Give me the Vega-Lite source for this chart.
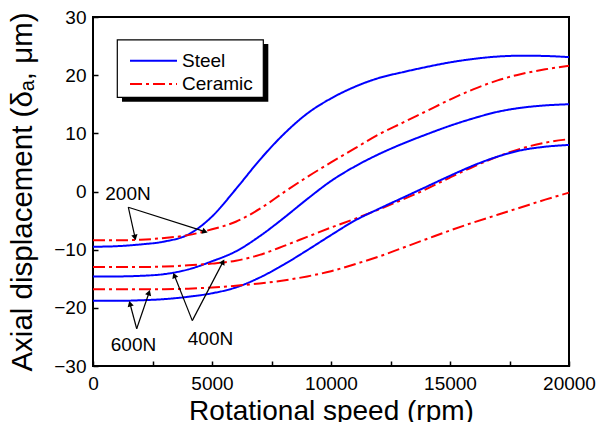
{
  "$schema": "https://vega.github.io/schema/vega-lite/v6.json",
  "width": 476,
  "height": 349,
  "autosize": {"type": "none"},
  "padding": {"left": 93, "top": 17, "right": 44, "bottom": 56},
  "config": {
    "font": "Liberation Sans",
    "view": {"stroke": "black", "strokeWidth": 2},
    "axis": {
      "grid": false,
      "domain": false,
      "ticks": true,
      "tickColor": "black",
      "tickWidth": 1.5,
      "tickSize": 5,
      "labelFlush": false,
      "labelOverlap": false,
      "labelColor": "black",
      "labelFontSize": 19,
      "labelFont": "Liberation Sans",
      "titleFont": "Liberation Sans",
      "titleFontWeight": "normal",
      "titleColor": "black"
    }
  },
  "datasets": {
    "curves": [
      {"material": "Steel", "load": "200N", "rpm": 0, "disp": -9.5},
      {"material": "Steel", "load": "200N", "rpm": 1000, "disp": -9.4},
      {"material": "Steel", "load": "200N", "rpm": 2000, "disp": -9.1},
      {"material": "Steel", "load": "200N", "rpm": 3000, "disp": -8.6},
      {"material": "Steel", "load": "200N", "rpm": 4000, "disp": -7.4},
      {"material": "Steel", "load": "200N", "rpm": 5000, "disp": -4.3},
      {"material": "Steel", "load": "200N", "rpm": 6000, "disp": 0.4},
      {"material": "Steel", "load": "200N", "rpm": 7000, "disp": 5.4},
      {"material": "Steel", "load": "200N", "rpm": 8000, "disp": 9.8},
      {"material": "Steel", "load": "200N", "rpm": 9000, "disp": 13.4},
      {"material": "Steel", "load": "200N", "rpm": 10000, "disp": 16.0},
      {"material": "Steel", "load": "200N", "rpm": 11000, "disp": 18.0},
      {"material": "Steel", "load": "200N", "rpm": 12000, "disp": 19.5},
      {"material": "Steel", "load": "200N", "rpm": 13000, "disp": 20.5},
      {"material": "Steel", "load": "200N", "rpm": 14000, "disp": 21.4},
      {"material": "Steel", "load": "200N", "rpm": 15000, "disp": 22.2},
      {"material": "Steel", "load": "200N", "rpm": 16000, "disp": 22.8},
      {"material": "Steel", "load": "200N", "rpm": 17000, "disp": 23.2},
      {"material": "Steel", "load": "200N", "rpm": 18000, "disp": 23.35},
      {"material": "Steel", "load": "200N", "rpm": 19000, "disp": 23.3},
      {"material": "Steel", "load": "200N", "rpm": 20000, "disp": 23.1},
      {"material": "Ceramic", "load": "200N", "rpm": 0, "disp": -8.4},
      {"material": "Ceramic", "load": "200N", "rpm": 1000, "disp": -8.4},
      {"material": "Ceramic", "load": "200N", "rpm": 2000, "disp": -8.3},
      {"material": "Ceramic", "load": "200N", "rpm": 3000, "disp": -8.0},
      {"material": "Ceramic", "load": "200N", "rpm": 4000, "disp": -7.5},
      {"material": "Ceramic", "load": "200N", "rpm": 5000, "disp": -6.5},
      {"material": "Ceramic", "load": "200N", "rpm": 6000, "disp": -5.2},
      {"material": "Ceramic", "load": "200N", "rpm": 7000, "disp": -3.0},
      {"material": "Ceramic", "load": "200N", "rpm": 8000, "disp": -0.2},
      {"material": "Ceramic", "load": "200N", "rpm": 9000, "disp": 2.5},
      {"material": "Ceramic", "load": "200N", "rpm": 10000, "disp": 5.0},
      {"material": "Ceramic", "load": "200N", "rpm": 11000, "disp": 7.4},
      {"material": "Ceramic", "load": "200N", "rpm": 12000, "disp": 9.8},
      {"material": "Ceramic", "load": "200N", "rpm": 13000, "disp": 11.8},
      {"material": "Ceramic", "load": "200N", "rpm": 14000, "disp": 13.8},
      {"material": "Ceramic", "load": "200N", "rpm": 15000, "disp": 15.8},
      {"material": "Ceramic", "load": "200N", "rpm": 16000, "disp": 17.6},
      {"material": "Ceramic", "load": "200N", "rpm": 17000, "disp": 19.1},
      {"material": "Ceramic", "load": "200N", "rpm": 18000, "disp": 20.2},
      {"material": "Ceramic", "load": "200N", "rpm": 19000, "disp": 21.0},
      {"material": "Ceramic", "load": "200N", "rpm": 20000, "disp": 21.6},
      {"material": "Steel", "load": "400N", "rpm": 0, "disp": -14.6},
      {"material": "Steel", "load": "400N", "rpm": 1000, "disp": -14.6},
      {"material": "Steel", "load": "400N", "rpm": 2000, "disp": -14.5},
      {"material": "Steel", "load": "400N", "rpm": 3000, "disp": -14.2},
      {"material": "Steel", "load": "400N", "rpm": 4000, "disp": -13.4},
      {"material": "Steel", "load": "400N", "rpm": 5000, "disp": -12.0},
      {"material": "Steel", "load": "400N", "rpm": 6000, "disp": -10.3},
      {"material": "Steel", "load": "400N", "rpm": 7000, "disp": -7.7},
      {"material": "Steel", "load": "400N", "rpm": 8000, "disp": -4.6},
      {"material": "Steel", "load": "400N", "rpm": 9000, "disp": -1.3},
      {"material": "Steel", "load": "400N", "rpm": 10000, "disp": 1.8},
      {"material": "Steel", "load": "400N", "rpm": 11000, "disp": 4.3},
      {"material": "Steel", "load": "400N", "rpm": 12000, "disp": 6.4},
      {"material": "Steel", "load": "400N", "rpm": 13000, "disp": 8.2},
      {"material": "Steel", "load": "400N", "rpm": 14000, "disp": 9.8},
      {"material": "Steel", "load": "400N", "rpm": 15000, "disp": 11.3},
      {"material": "Steel", "load": "400N", "rpm": 16000, "disp": 12.6},
      {"material": "Steel", "load": "400N", "rpm": 17000, "disp": 13.7},
      {"material": "Steel", "load": "400N", "rpm": 18000, "disp": 14.4},
      {"material": "Steel", "load": "400N", "rpm": 19000, "disp": 14.8},
      {"material": "Steel", "load": "400N", "rpm": 20000, "disp": 15.0},
      {"material": "Ceramic", "load": "400N", "rpm": 0, "disp": -13.0},
      {"material": "Ceramic", "load": "400N", "rpm": 1000, "disp": -13.0},
      {"material": "Ceramic", "load": "400N", "rpm": 2000, "disp": -13.0},
      {"material": "Ceramic", "load": "400N", "rpm": 3000, "disp": -12.9},
      {"material": "Ceramic", "load": "400N", "rpm": 4000, "disp": -12.7},
      {"material": "Ceramic", "load": "400N", "rpm": 5000, "disp": -12.4},
      {"material": "Ceramic", "load": "400N", "rpm": 6000, "disp": -11.9},
      {"material": "Ceramic", "load": "400N", "rpm": 7000, "disp": -10.9},
      {"material": "Ceramic", "load": "400N", "rpm": 8000, "disp": -9.4},
      {"material": "Ceramic", "load": "400N", "rpm": 9000, "disp": -7.8},
      {"material": "Ceramic", "load": "400N", "rpm": 10000, "disp": -6.2},
      {"material": "Ceramic", "load": "400N", "rpm": 11000, "disp": -4.7},
      {"material": "Ceramic", "load": "400N", "rpm": 12000, "disp": -3.1},
      {"material": "Ceramic", "load": "400N", "rpm": 13000, "disp": -1.4},
      {"material": "Ceramic", "load": "400N", "rpm": 14000, "disp": 0.4},
      {"material": "Ceramic", "load": "400N", "rpm": 15000, "disp": 2.4},
      {"material": "Ceramic", "load": "400N", "rpm": 16000, "disp": 4.3},
      {"material": "Ceramic", "load": "400N", "rpm": 17000, "disp": 6.0},
      {"material": "Ceramic", "load": "400N", "rpm": 18000, "disp": 7.4},
      {"material": "Ceramic", "load": "400N", "rpm": 19000, "disp": 8.4},
      {"material": "Ceramic", "load": "400N", "rpm": 20000, "disp": 9.0},
      {"material": "Steel", "load": "600N", "rpm": 0, "disp": -18.8},
      {"material": "Steel", "load": "600N", "rpm": 1000, "disp": -18.8},
      {"material": "Steel", "load": "600N", "rpm": 2000, "disp": -18.7},
      {"material": "Steel", "load": "600N", "rpm": 3000, "disp": -18.5},
      {"material": "Steel", "load": "600N", "rpm": 4000, "disp": -18.1},
      {"material": "Steel", "load": "600N", "rpm": 5000, "disp": -17.5},
      {"material": "Steel", "load": "600N", "rpm": 6000, "disp": -16.5},
      {"material": "Steel", "load": "600N", "rpm": 7000, "disp": -14.8},
      {"material": "Steel", "load": "600N", "rpm": 8000, "disp": -12.6},
      {"material": "Steel", "load": "600N", "rpm": 9000, "disp": -10.1},
      {"material": "Steel", "load": "600N", "rpm": 10000, "disp": -7.5},
      {"material": "Steel", "load": "600N", "rpm": 11000, "disp": -5.0},
      {"material": "Steel", "load": "600N", "rpm": 12000, "disp": -3.0},
      {"material": "Steel", "load": "600N", "rpm": 13000, "disp": -1.1},
      {"material": "Steel", "load": "600N", "rpm": 14000, "disp": 0.8},
      {"material": "Steel", "load": "600N", "rpm": 15000, "disp": 2.7},
      {"material": "Steel", "load": "600N", "rpm": 16000, "disp": 4.5},
      {"material": "Steel", "load": "600N", "rpm": 17000, "disp": 6.0},
      {"material": "Steel", "load": "600N", "rpm": 18000, "disp": 7.1},
      {"material": "Steel", "load": "600N", "rpm": 19000, "disp": 7.7},
      {"material": "Steel", "load": "600N", "rpm": 20000, "disp": 8.0},
      {"material": "Ceramic", "load": "600N", "rpm": 0, "disp": -16.8},
      {"material": "Ceramic", "load": "600N", "rpm": 1000, "disp": -16.8},
      {"material": "Ceramic", "load": "600N", "rpm": 2000, "disp": -16.8},
      {"material": "Ceramic", "load": "600N", "rpm": 3000, "disp": -16.8},
      {"material": "Ceramic", "load": "600N", "rpm": 4000, "disp": -16.7},
      {"material": "Ceramic", "load": "600N", "rpm": 5000, "disp": -16.5},
      {"material": "Ceramic", "load": "600N", "rpm": 6000, "disp": -16.2},
      {"material": "Ceramic", "load": "600N", "rpm": 7000, "disp": -15.8},
      {"material": "Ceramic", "load": "600N", "rpm": 8000, "disp": -15.3},
      {"material": "Ceramic", "load": "600N", "rpm": 9000, "disp": -14.6},
      {"material": "Ceramic", "load": "600N", "rpm": 10000, "disp": -13.7},
      {"material": "Ceramic", "load": "600N", "rpm": 11000, "disp": -12.5},
      {"material": "Ceramic", "load": "600N", "rpm": 12000, "disp": -11.2},
      {"material": "Ceramic", "load": "600N", "rpm": 13000, "disp": -9.7},
      {"material": "Ceramic", "load": "600N", "rpm": 14000, "disp": -8.2},
      {"material": "Ceramic", "load": "600N", "rpm": 15000, "disp": -6.7},
      {"material": "Ceramic", "load": "600N", "rpm": 16000, "disp": -5.3},
      {"material": "Ceramic", "load": "600N", "rpm": 17000, "disp": -4.0},
      {"material": "Ceramic", "load": "600N", "rpm": 18000, "disp": -2.7},
      {"material": "Ceramic", "load": "600N", "rpm": 19000, "disp": -1.4},
      {"material": "Ceramic", "load": "600N", "rpm": 20000, "disp": -0.2}
    ],
    "arrows": [
      {"label": "200N", "x": 1483, "y": -2.7, "x2": 1765, "y2": -7.9},
      {"label": "200N", "x": 1483, "y": -2.7, "x2": 4706, "y2": -6.9},
      {"label": "600N", "x": 1836, "y": -23.6, "x2": 1555, "y2": -19.3},
      {"label": "600N", "x": 1836, "y": -23.6, "x2": 2353, "y2": -17.4},
      {"label": "400N", "x": 4172, "y": -22.2, "x2": 3416, "y2": -14.4},
      {"label": "400N", "x": 4172, "y": -22.2, "x2": 5462, "y2": -12.1}
    ],
    "notes": [
      {"label": "200N", "x": 1471, "y": -0.5},
      {"label": "600N", "x": 1702, "y": -26.4},
      {"label": "400N", "x": 4937, "y": -25.3}
    ],
    "legendbox": [
      {"part": "shadow", "x": 1218, "x2": 7366, "y": 25.34, "y2": 15.43},
      {"part": "box", "x": 1021, "x2": 7156, "y": 26.08, "y2": 16.19}
    ],
    "legenditems": [
      {"material": "Steel", "x": 1555, "x2": 3529, "xt": 3740, "y": 22.47},
      {"material": "Ceramic", "x": 1555, "x2": 3529, "xt": 3740, "y": 18.47}
    ]
  },
  "layer": [
    {
      "data": {"name": "curves"},
      "mark": {"type": "line", "strokeWidth": 2, "interpolate": "monotone"},
      "encoding": {
        "x": {
          "field": "rpm", "type": "quantitative",
          "scale": {"domain": [0, 20000], "nice": false},
          "axis": {
            "title": "Rotational speed (rpm)",
            "titleFontSize": 28,
            "offset": -5,
            "values": [0, 2500, 5000, 7500, 10000, 12500, 15000, 17500, 20000],
            "labelExpr": "datum.value % 5000 == 0 ? format(datum.value, 'd') : ''",
            "labelPadding": 8,
            "titlePadding": 4
          }
        },
        "y": {
          "field": "disp", "type": "quantitative",
          "scale": {"domain": [-30, 30], "nice": false},
          "axis": {
            "title": "Axial displacement (δₐ, μm)",
            "titleFontSize": 29.5,
            "offset": -5,
            "values": [-30, -25, -20, -15, -10, -5, 0, 5, 10, 15, 20, 25, 30],
            "labelExpr": "datum.value % 10 == 0 ? format(datum.value, 'd') : ''",
            "labelPadding": 7,
            "titlePadding": 16
          }
        },
        "color": {
          "field": "material", "type": "nominal",
          "scale": {"domain": ["Steel", "Ceramic"], "range": ["#0000ff", "#ff0000"]},
          "legend": null
        },
        "strokeDash": {
          "field": "material", "type": "nominal",
          "scale": {"domain": ["Steel", "Ceramic"], "range": [[1, 0], [12, 4, 3, 4]]},
          "legend": null
        },
        "detail": {"field": "load"}
      }
    },
    {
      "data": {"name": "legendbox"},
      "transform": [{"filter": "datum.part == 'shadow'"}],
      "mark": {"type": "rect", "color": "black"},
      "encoding": {
        "x": {"field": "x", "type": "quantitative"},
        "x2": {"field": "x2"},
        "y": {"field": "y", "type": "quantitative"},
        "y2": {"field": "y2"}
      }
    },
    {
      "data": {"name": "legendbox"},
      "transform": [{"filter": "datum.part == 'box'"}],
      "mark": {"type": "rect", "fill": "white", "stroke": "black", "strokeWidth": 1.2},
      "encoding": {
        "x": {"field": "x", "type": "quantitative"},
        "x2": {"field": "x2"},
        "y": {"field": "y", "type": "quantitative"},
        "y2": {"field": "y2"}
      }
    },
    {
      "data": {"name": "legenditems"},
      "mark": {"type": "rule", "strokeWidth": 2},
      "encoding": {
        "x": {"field": "x", "type": "quantitative"},
        "x2": {"field": "x2"},
        "y": {"field": "y", "type": "quantitative"},
        "color": {"field": "material", "type": "nominal", "legend": null},
        "strokeDash": {"field": "material", "type": "nominal", "legend": null}
      }
    },
    {
      "data": {"name": "legenditems"},
      "mark": {"type": "text", "align": "left", "baseline": "middle", "fontSize": 19, "color": "black", "font": "Liberation Sans"},
      "encoding": {
        "x": {"field": "xt", "type": "quantitative"},
        "y": {"field": "y", "type": "quantitative"},
        "text": {"field": "material"}
      }
    },
    {
      "data": {"name": "arrows"},
      "mark": {"type": "rule", "color": "black", "strokeWidth": 1.2},
      "encoding": {
        "x": {"field": "x", "type": "quantitative"},
        "x2": {"field": "x2"},
        "y": {"field": "y", "type": "quantitative"},
        "y2": {"field": "y2"}
      }
    },
    {
      "data": {"name": "arrows"},
      "transform": [
        {"calculate": "atan2((datum.x2 - datum.x) * 476 / 20000, (datum.y2 - datum.y) * 349 / 60) * 180 / PI", "as": "ang"}
      ],
      "mark": {"type": "point", "shape": "triangle-up", "filled": true, "color": "black", "size": 40, "opacity": 1},
      "encoding": {
        "x": {"field": "x2", "type": "quantitative"},
        "y": {"field": "y2", "type": "quantitative"},
        "angle": {"field": "ang", "type": "quantitative", "scale": null}
      }
    },
    {
      "data": {"name": "notes"},
      "mark": {"type": "text", "fontSize": 19, "color": "black", "font": "Liberation Sans"},
      "encoding": {
        "x": {"field": "x", "type": "quantitative"},
        "y": {"field": "y", "type": "quantitative"},
        "text": {"field": "label"}
      }
    }
  ]
}
